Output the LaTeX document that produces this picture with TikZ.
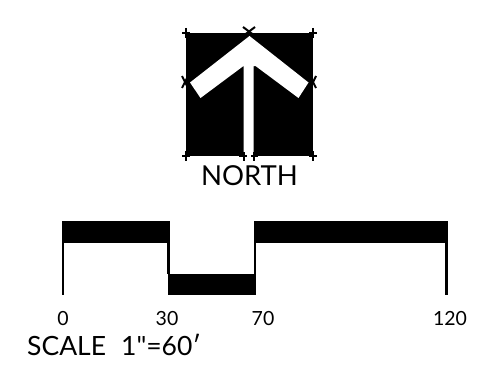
\documentclass[tikz,border=0pt]{standalone}
\usepackage{fontspec}
\newfontfamily\labelfont{Lato}
\begin{document}
\begin{tikzpicture}[x=1pt,y=-1pt,
    tick/.style={black,line width=2pt},
    post/.style={black,line width=2.3pt},
    scalenum/.style={inner sep=0pt,font=\labelfont\fontsize{19.5}{19.5}\selectfont,anchor=base},
    caption/.style={inner sep=0pt,font=\labelfont\fontsize{27.5}{27.5}\selectfont,anchor=base}]
  \useasboundingbox (0,0) rectangle (486,369);
  % north block
  \fill (186,33) rectangle (313,156);
  \fill[white] (249.5,36) -- (308.5,82.5) -- (298.5,98) -- (255.5,66) -- (253.5,66) -- (253.5,156) -- (243.5,156) -- (243.5,66) -- (200.5,98) -- (190,82.5) -- cycle;
  % corner marks
  \foreach \x in {186,313}{ \foreach \y in {33,156}{
    \draw[tick] (\x-4,\y) -- (\x+4,\y);
    \draw[tick] (\x,\y-5) -- (\x,\y+5); }}
  \foreach \x in {243.5,254}{ \draw[tick] (\x,152) -- (\x,161); }
  \draw[tick] (239,156) -- (247,156);
  \draw[tick] (251,156) -- (258,156);
  \draw[tick] (243,27) -- (255,36);
  \draw[tick] (255,27) -- (243,36);
  \draw[tick] (182,76) -- (188,88);
  \draw[tick] (188,76) -- (182,88);
  \draw[tick] (310,88) -- (316,76);
  \draw[tick] (310,76) -- (316,88);
  \node[caption] (north) at (249.5,185) {NORTH};
  % scale bar
  \fill (62,221) rectangle (169.5,242.5);
  \fill (167.5,273.5) rectangle (255.5,295);
  \fill (254,221) rectangle (447.5,242.5);
  \draw[post] (63,242) -- (63,295);
  \draw[post] (168.5,242) -- (168.5,274);
  \draw[post] (255,242) -- (255,274);
  \draw[post] (446.5,242) -- (446.5,295);
  \foreach \x/\lab in {63/0,167/30,263/70,450/120}{
    \node[scalenum] (num\lab) at (\x,325) {\lab}; }
  \node[caption,anchor=base west,font=\labelfont\fontsize{26.5}{26.5}\selectfont] (scale) at (27,355) {SCALE\hspace{15pt}1"=60′};
\end{tikzpicture}
\end{document}
